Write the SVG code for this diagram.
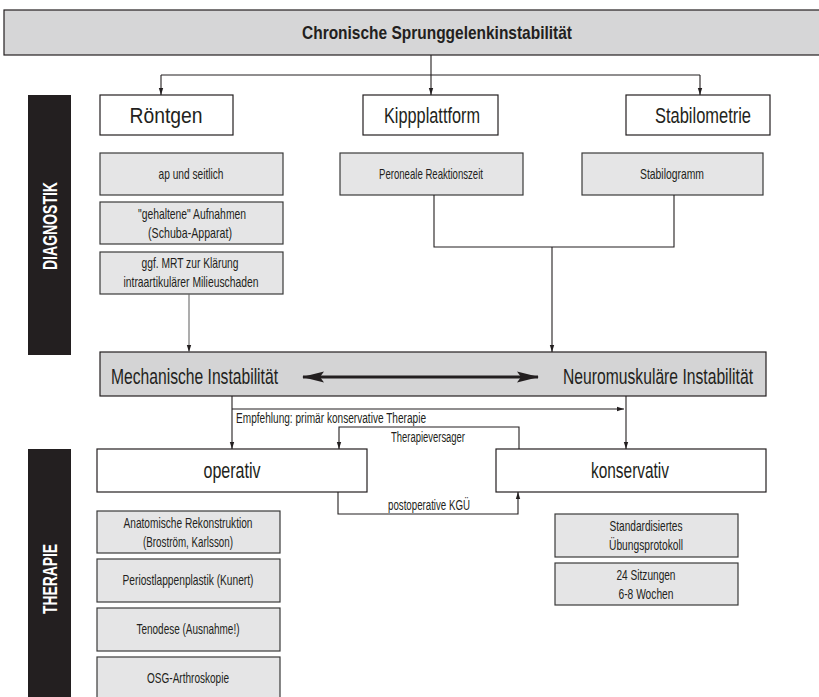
<svg xmlns="http://www.w3.org/2000/svg" width="819" height="697" viewBox="0 0 819 697">
<style>
  text { font-family: "Liberation Sans Narrow", "Liberation Sans", "DejaVu Sans Condensed", sans-serif; fill: #231f20; }
  .t { text-anchor: middle; font-size: 15px; }
  .big { text-anchor: middle; font-size: 22px; }
  .bar { fill: #231f20; }
  .bartext { fill: #ffffff; font-weight: bold; font-size: 21px; text-anchor: middle; }
  .white { fill: #ffffff; stroke: #231f20; stroke-width: 1.2; }
  .grey { fill: #e5e5e6; stroke: #3a3a3a; stroke-width: 1.2; }
  .mid { fill: #d4d4d5; stroke: #231f20; stroke-width: 1.2; }
  .ln { fill: none; stroke: #231f20; stroke-width: 1.1; }
  .lbl { font-size: 14px; }
  .inst { font-size: 22px; }
</style>
<defs>
  <marker id="ah" markerUnits="userSpaceOnUse" markerWidth="7" markerHeight="6" viewBox="0 0 7 6" refX="7" refY="3" orient="auto">
    <path d="M0,0.8 L7,3 L0,5.2 z" fill="#231f20"/>
  </marker>
  <marker id="bigah" markerUnits="userSpaceOnUse" markerWidth="22" markerHeight="12" viewBox="0 0 22 12" refX="21" refY="6" orient="auto-start-reverse">
    <path d="M0,0.5 L22,6 L0,11.5 L4,6 z" fill="#231f20"/>
  </marker>
</defs>

<g id="title">
  <rect x="4" y="10" width="822" height="45" fill="#d6d6d7" stroke="#231f20" stroke-width="1.2"/>
  <text x="437" y="39" style="text-anchor:middle;font-weight:bold;font-size:19px" textLength="270" lengthAdjust="spacingAndGlyphs">Chronische Sprunggelenkinstabilität</text>
</g>

<g id="diagnostik-label">
  <rect class="bar" x="28" y="95" width="43" height="260"/>
  <text class="bartext" transform="translate(57,226) rotate(-90)" textLength="88" lengthAdjust="spacingAndGlyphs">DIAGNOSTIK</text>
</g>

<g id="therapie-label">
  <rect class="bar" x="28" y="449" width="43" height="250"/>
  <text class="bartext" transform="translate(57,579) rotate(-90)" textLength="70" lengthAdjust="spacingAndGlyphs">THERAPIE</text>
</g>

<g id="roentgen">
  <rect class="white" x="100" y="95" width="133" height="40"/>
  <text class="big" x="166" y="123" textLength="73" lengthAdjust="spacingAndGlyphs">Röntgen</text>
</g>
<g id="kippplattform">
  <rect class="white" x="363" y="95" width="135" height="40"/>
  <text class="big" x="432" y="123" textLength="96" lengthAdjust="spacingAndGlyphs">Kippplattform</text>
</g>
<g id="stabilometrie">
  <rect class="white" x="626" y="95" width="144" height="40"/>
  <text class="big" x="703" y="123" textLength="96" lengthAdjust="spacingAndGlyphs">Stabilometrie</text>
</g>

<g id="ap-seitlich">
  <rect class="grey" x="100" y="153" width="183" height="42"/>
  <text class="t" x="191" y="179" textLength="65" lengthAdjust="spacingAndGlyphs">ap und seitlich</text>
</g>
<g id="gehaltene">
  <rect class="grey" x="100" y="202" width="183" height="42"/>
  <text class="t" x="192" y="219" textLength="108" lengthAdjust="spacingAndGlyphs">"gehaltene" Aufnahmen</text>
  <text class="t" x="190" y="238" textLength="84" lengthAdjust="spacingAndGlyphs">(Schuba-Apparat)</text>
</g>
<g id="mrt">
  <rect class="grey" x="100" y="252" width="183" height="42"/>
  <text class="t" x="190" y="268" textLength="97" lengthAdjust="spacingAndGlyphs">ggf. MRT zur Klärung</text>
  <text class="t" x="191" y="287" textLength="135" lengthAdjust="spacingAndGlyphs">intraartikulärer Milieuschaden</text>
</g>
<g id="peroneale">
  <rect class="grey" x="340" y="153" width="183" height="42"/>
  <text class="t" x="431" y="179" textLength="104" lengthAdjust="spacingAndGlyphs">Peroneale Reaktionszeit</text>
</g>
<g id="stabilogramm">
  <rect class="grey" x="582" y="153" width="181" height="42"/>
  <text class="t" x="672" y="179" textLength="64" lengthAdjust="spacingAndGlyphs">Stabilogramm</text>
</g>

<g id="instabilitaet">
  <rect class="mid" x="100" y="352" width="666" height="44"/>
  <text class="inst" transform="translate(111,384) scale(0.867,1)" x="0" y="0" textLength="192.6" lengthAdjust="spacingAndGlyphs">Mechanische Instabilität</text>
  <text class="inst" transform="translate(563,384) scale(0.87,1)" x="0" y="0" textLength="218.4" lengthAdjust="spacingAndGlyphs">Neuromuskuläre Instabilität</text>
</g>

<g id="operativ">
  <rect class="white" x="97" y="449" width="270" height="43"/>
  <text class="big" x="232" y="478" textLength="57" lengthAdjust="spacingAndGlyphs">operativ</text>
</g>
<g id="konservativ">
  <rect class="white" x="496" y="449" width="270" height="43"/>
  <text class="big" x="630" y="478" textLength="78" lengthAdjust="spacingAndGlyphs">konservativ</text>
</g>

<g id="anatomische">
  <rect class="grey" x="97" y="511" width="183" height="42"/>
  <text class="t" x="188" y="528" textLength="129" lengthAdjust="spacingAndGlyphs">Anatomische Rekonstruktion</text>
  <text class="t" x="188" y="547" textLength="90" lengthAdjust="spacingAndGlyphs">(Broström, Karlsson)</text>
</g>
<g id="periost">
  <rect class="grey" x="97" y="559" width="183" height="43"/>
  <text class="t" x="188" y="585" textLength="131" lengthAdjust="spacingAndGlyphs">Periostlappenplastik (Kunert)</text>
</g>
<g id="tenodese">
  <rect class="grey" x="97" y="608" width="183" height="43"/>
  <text class="t" x="188" y="634" textLength="103" lengthAdjust="spacingAndGlyphs">Tenodese (Ausnahme!)</text>
</g>
<g id="osg">
  <rect class="grey" x="97" y="657" width="183" height="45"/>
  <text class="t" x="188" y="683" textLength="82" lengthAdjust="spacingAndGlyphs">OSG-Arthroskopie</text>
</g>

<g id="standardisiertes">
  <rect class="grey" x="555" y="514" width="183" height="43"/>
  <text class="t" x="646" y="531" textLength="73" lengthAdjust="spacingAndGlyphs">Standardisiertes</text>
  <text class="t" x="646" y="550" textLength="74" lengthAdjust="spacingAndGlyphs">Übungsprotokoll</text>
</g>
<g id="sitzungen">
  <rect class="grey" x="555" y="563" width="183" height="42"/>
  <text class="t" x="646" y="580" textLength="59" lengthAdjust="spacingAndGlyphs">24 Sitzungen</text>
  <text class="t" x="646" y="599" textLength="55" lengthAdjust="spacingAndGlyphs">6-8 Wochen</text>
</g>

<g id="connectors">
  <path class="ln" d="M431,55 V75 M161,75 H700"/>
  <path class="ln" d="M161,75 V95" marker-end="url(#ah)"/>
  <path class="ln" d="M431,75 V95" marker-end="url(#ah)"/>
  <path class="ln" d="M700,75 V95" marker-end="url(#ah)"/>
  <path class="ln" d="M189,294 V352" style="stroke:#6a6a6a" marker-end="url(#ah)"/>
  <path class="ln" d="M434,195 V247 H674 V195"/>
  <path class="ln" d="M552,247 V352" marker-end="url(#ah)"/>
  <path d="M303,377 H538" fill="none" stroke="#231f20" stroke-width="3" marker-start="url(#bigah)" marker-end="url(#bigah)"/>
  <path class="ln" d="M232,396 V449" marker-end="url(#ah)"/>
  <path class="ln" d="M232,409 H624" marker-end="url(#ah)"/>
  <path class="ln" d="M626,396 V449" marker-end="url(#ah)"/>
  <path class="ln" d="M519,449 V427 H339 V449" marker-end="url(#ah)"/>
  <path class="ln" d="M338,492 V514 H518 V492" marker-end="url(#ah)"/>
  <text class="lbl" x="236" y="423" textLength="190" lengthAdjust="spacingAndGlyphs">Empfehlung: primär konservative Therapie</text>
  <text class="lbl" x="391" y="442" textLength="74" lengthAdjust="spacingAndGlyphs">Therapieversager</text>
  <text class="lbl" x="388" y="510" textLength="82" lengthAdjust="spacingAndGlyphs">postoperative KGÜ</text>
</g>
</svg>
